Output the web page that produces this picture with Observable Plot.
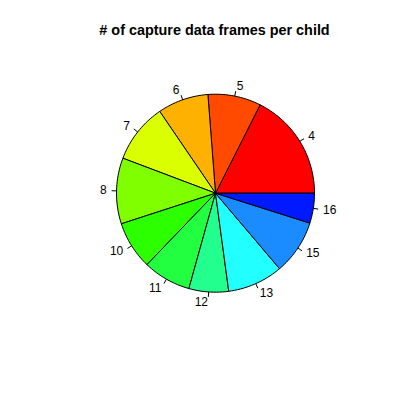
<!DOCTYPE html>
<html>
<head>
<meta charset="utf-8">
<script src="https://cdn.jsdelivr.net/npm/d3@7"></script>
<script src="https://cdn.jsdelivr.net/npm/@observablehq/plot@0.6"></script>
<style>
  html, body { margin: 0; padding: 0; background: #fff; }
</style>
</head>
<body>
<div id="chart"></div>
<script>
// Data (slice sizes, in degrees of the pie)
const labels = ["4", "5", "6", "7", "8", "10", "11", "12", "13", "15", "16"];
const values = [63.2, 31.2, 29.9, 35.0, 38.7, 28.2, 28.2, 23.3, 32.6, 32.1, 17.6];
const colors = ["#FF0000", "#FF4A00", "#FFB100", "#D9FF00", "#80FF00", "#2BFF00",
                "#22FF40", "#22FF8E", "#22FFFF", "#1A8CFF", "#0019FF"];
const title = "# of capture data frames per child";

const total = d3.sum(values);
let acc = 0;
const slices = labels.map((label, i) => {
  const a0 = acc / total * 2 * Math.PI;
  acc += values[i];
  const a1 = acc / total * 2 * Math.PI;
  return {label, color: colors[i], a0, a1, mid: (a0 + a1) / 2};
});

// polygon vertices for each slice (R pie style: counter-clockwise from 3 o'clock)
const poly = [];
for (const s of slices) {
  poly.push({label: s.label, color: s.color, x: 0, y: 0});
  const n = Math.max(2, Math.ceil((s.a1 - s.a0) / (2 * Math.PI) * 200));
  for (let k = 0; k <= n; k++) {
    const a = s.a0 + (s.a1 - s.a0) * k / n;
    poly.push({label: s.label, color: s.color, x: Math.cos(a), y: Math.sin(a)});
  }
  poly.push({label: s.label, color: s.color, x: 0, y: 0});
}

const ticks = slices.map(s => ({
  x1: Math.cos(s.mid), y1: Math.sin(s.mid),
  x2: 1.05 * Math.cos(s.mid), y2: 1.05 * Math.sin(s.mid)
}));
const labs = slices.map(s => ({
  label: s.label, x: 1.1 * Math.cos(s.mid), y: 1.1 * Math.sin(s.mid), right: Math.cos(s.mid) > 0
}));

const chart = Plot.plot({
  width: 400,
  height: 400,
  margin: 0,
  x: {domain: [-1, 1], range: [116, 314], axis: null},
  y: {domain: [-1, 1], range: [291.7, 93.7], axis: null},
  color: {type: "identity"},
  style: {fontFamily: "Liberation Sans, Arial, Helvetica, sans-serif", background: "#fff"},
  marks: [
    Plot.line(poly, {x: "x", y: "y", z: "label", fill: "color", stroke: "black", strokeWidth: 1, curve: "linear", strokeLinejoin: "miter"}),
    Plot.link(ticks, {x1: "x1", y1: "y1", x2: "x2", y2: "y2", stroke: "black", strokeWidth: 1}),
    Plot.text(labs.filter(d => d.right), {x: "x", y: "y", text: "label", textAnchor: "start", fontSize: 12, fill: "black"}),
    Plot.text(labs.filter(d => !d.right), {x: "x", y: "y", text: "label", textAnchor: "end", fontSize: 12, fill: "black"}),
    Plot.text([title], {text: d => d, frameAnchor: "top", dx: 14, dy: 24, fontSize: 14.4, fontWeight: "bold", fill: "black"})
  ]
});
document.getElementById("chart").appendChild(chart);
</script>
</body>
</html>
